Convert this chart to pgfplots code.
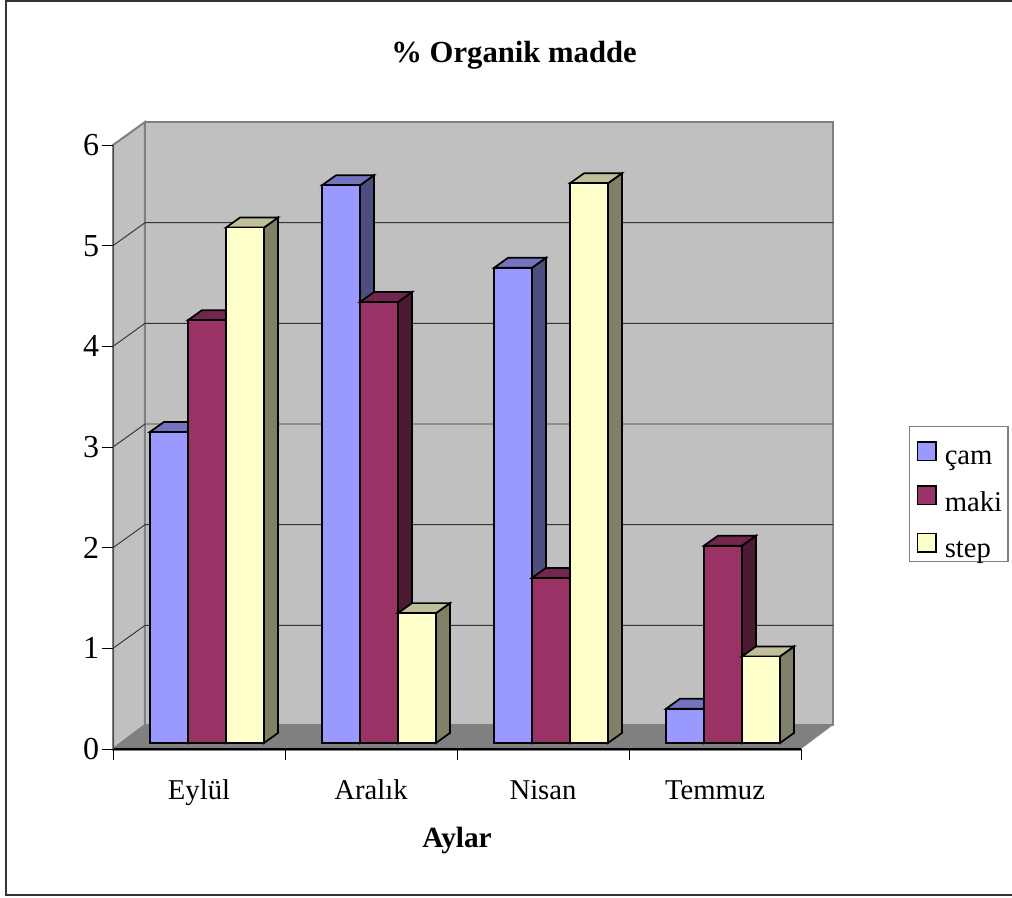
\documentclass[border=0pt]{standalone}
\usepackage{pgfplots}
\pgfplotsset{compat=1.18}
\usepackage{fontspec}
\setmainfont{Liberation Serif}

\definecolor{camF}{HTML}{9999FF}\definecolor{camT}{HTML}{7373BF}\definecolor{camS}{HTML}{4D4D80}
\definecolor{makiF}{HTML}{993366}\definecolor{makiT}{HTML}{73264D}\definecolor{makiS}{HTML}{4D1A33}
\definecolor{stepF}{HTML}{FFFFCC}\definecolor{stepT}{HTML}{BFBF99}\definecolor{stepS}{HTML}{808066}
\definecolor{wall}{HTML}{C0C0C0}\definecolor{floorc}{HTML}{808080}

% One column in cabinet projection: #1 left edge, #2 value, #3 colour prefix
\newcommand{\column}[3]{%
  \pgfmathsetmacro\xa{#1}%
  \pgfmathsetmacro\xb{#1+0.2209}%
  \pgfmathsetmacro\xc{#1+0.2209+0.0814}%
  \pgfmathsetmacro\xd{#1+0.0814}%
  \pgfmathsetmacro\ya{0.06}%
  \pgfmathsetmacro\yb{#2+0.06}%
  \pgfmathsetmacro\yc{#2+0.06+0.0993}%
  \pgfmathsetmacro\ye{0.06+0.0993}%
  \edef\faces{%
    \noexpand\addplot[forget plot,fill=#3S,draw=black,line width=1.3pt,line join=miter]
      coordinates {(\xb,\ya)(\xc,\ye)(\xc,\yc)(\xb,\yb)} --cycle;
    \noexpand\addplot[forget plot,fill=#3T,draw=black,line width=1.3pt,line join=miter]
      coordinates {(\xa,\yb)(\xb,\yb)(\xc,\yc)(\xd,\yc)} --cycle;
    \noexpand\addplot[forget plot,fill=#3F,draw=black,line width=1.3pt,line join=miter]
      coordinates {(\xa,\ya)(\xb,\ya)(\xb,\yb)(\xa,\yb)} --cycle;
  }\faces
}

\begin{document}
\begin{tikzpicture}
\useasboundingbox (0pt,0pt) rectangle (759pt,-672.75pt);
\draw[line width=1.2pt,color=black!80] (759pt,-0.75pt) -- (4.5pt,-0.75pt) -- (4.5pt,-671.25pt) -- (759pt,-671.25pt);
\begin{axis}[
  at={(84.75pt,-561.75pt)},anchor=south west,
  scale only axis,width=516pt,height=453pt,
  xmin=0,xmax=4,ymin=0,ymax=6,
  clip=false,axis on top,
  axis x line*=bottom,axis y line*=left,
  x axis line style={-,line width=0.8pt},
  y axis line style={-,line width=0.6pt,color=black!70},
  tick align=outside,
  xtick={0.5,1.5,2.5,3.5},
  xticklabels={Eylül,Aralık,Nisan,Temmuz},
  minor xtick={0,1,2,3,4},
  ytick={0,1,2,3,4,5,6},
  major x tick style={draw=none},
  minor tick length=8.3pt,
  major tick length=8.3pt,
  tick style={black,line width=0.6pt},
  /pgf/number format/assume math mode=true,
  yticklabel style={font=\fontsize{24}{28}\selectfont,xshift=1.5pt},
  xticklabel style={font=\fontsize{21.5}{25}\selectfont,anchor=base,yshift=-29.5pt},
  title={\textbf{\% Organik madde}},
  title style={font=\fontsize{23}{27}\selectfont,at={(axis description cs:0.583,1.136)},anchor=center},
  xlabel={\textbf{Aylar}},
  xlabel style={font=\fontsize{22}{26}\selectfont,at={(axis description cs:0.5,-0.152)},anchor=center},
  legend style={at={(axis description cs:1.157,0.535)},anchor=north west,
    draw=floorc,line width=1.1pt,font=\fontsize{21.5}{26}\selectfont,
    inner xsep=3.5pt,inner ysep=3pt,row sep=7.5pt,column sep=0pt,
    nodes={inner xsep=1pt,inner ysep=0pt,text depth=0pt}},
  legend cell align=left,
  legend image code/.code={%
    \path[draw=none,fill=none] (-2.25pt,-2pt) rectangle (19.5pt,20.5pt);
    \draw[#1,line width=1.1pt,draw=black] (0pt,-2pt) rectangle (14pt,12pt);},
]
% walls and floor
\addplot[forget plot,fill=wall,draw=floorc,line width=1.5pt] coordinates {(0,0)(0.186,0.2384)(0.186,6.2284)(0,6)} --cycle;
\addplot[forget plot,fill=wall,draw=floorc,line width=1.5pt] coordinates {(0.186,0.2384)(4.186,0.2384)(4.186,6.2284)(0.186,6.2284)} --cycle;
\addplot[forget plot,fill=floorc,draw=none] coordinates {(0,0)(4,0)(4.186,0.2384)(0.186,0.2384)} --cycle;
\addplot[forget plot,draw=floorc,line width=1pt] coordinates {(0,-0.015)(4,-0.015)};
% gridlines
\addplot[forget plot,draw=black!80,line width=0.7pt] coordinates {(0,1)(0.186,1.2284)(4.186,1.2284)};
\addplot[forget plot,draw=black!80,line width=0.7pt] coordinates {(0,2)(0.186,2.2284)(4.186,2.2284)};
\addplot[forget plot,draw=black!80,line width=0.7pt] coordinates {(0,3)(0.186,3.2284)(4.186,3.2284)};
\addplot[forget plot,draw=black!80,line width=0.7pt] coordinates {(0,4)(0.186,4.2284)(4.186,4.2284)};
\addplot[forget plot,draw=black!80,line width=0.7pt] coordinates {(0,5)(0.186,5.2284)(4.186,5.2284)};
% Eylül
\column{0.2151}{3.09}{cam}
\column{0.4360}{4.20}{maki}
\column{0.6570}{5.12}{step}
% Aralık
\column{1.2151}{5.54}{cam}
\column{1.4360}{4.38}{maki}
\column{1.6570}{1.29}{step}
% Nisan
\column{2.2151}{4.72}{cam}
\column{2.4360}{1.64}{maki}
\column{2.6570}{5.56}{step}
% Temmuz
\column{3.2151}{0.34}{cam}
\column{3.4360}{1.96}{maki}
\column{3.6570}{0.86}{step}
% legend
\addlegendimage{fill=camF}\addlegendentry{çam}
\addlegendimage{fill=makiF}\addlegendentry{maki}
\addlegendimage{fill=stepF}\addlegendentry{step}
\end{axis}
\end{tikzpicture}
\end{document}
